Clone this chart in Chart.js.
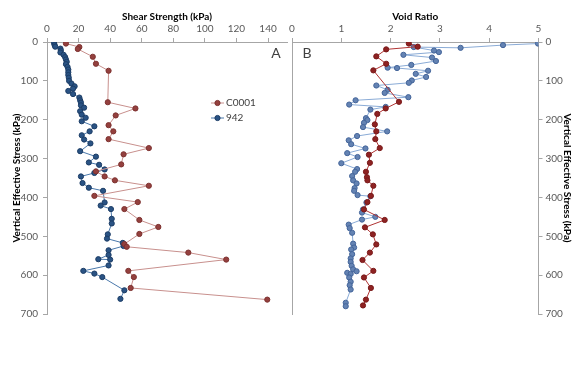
<!DOCTYPE html>
<html>
<head>
<meta charset="utf-8">
<script src="https://cdn.jsdelivr.net/npm/chart.js@4.4.0/dist/chart.umd.min.js"></script>
<style>
  html, body { margin: 0; padding: 0; background: #fff; }
  #wrap { position: relative; width: 576px; height: 366px; }
  canvas { position: absolute; top: 0; }
  #left { left: 0; }
  #right { left: 285px; }
</style>
</head>
<body>
<div id="wrap">
  <canvas id="left" width="292" height="366"></canvas>
  <canvas id="right" width="291" height="366"></canvas>
</div>
<script>
// panel A: shear strength (kPa) against vertical effective stress (kPa)
const shearStressC0001 = [4, 13, 18, 38, 56, 74, 155, 171, 189, 214, 230, 250, 273, 289, 315, 333, 346, 356, 370, 396, 412, 430, 458, 476, 494, 520, 527, 542, 560, 589, 605, 633, 663];
const shearC0001 = [12, 20.5, 19.5, 29, 31, 39, 38.5, 56, 43.5, 39, 42, 39, 64.5, 48.5, 47, 31, 36.5, 43, 64.5, 30, 57.5, 49, 58.5, 70.5, 58.5, 49, 50.5, 89.5, 113.5, 51.5, 55, 53, 139.5];

const shearStress942 = [3, 8, 12, 17, 22, 27, 33, 39, 45, 51, 57, 64, 71, 78, 85, 92, 100, 107, 114, 120, 126, 134, 143, 150, 156, 163, 169, 178, 187, 195, 204, 217, 230, 240, 251, 261, 281, 295, 310, 316, 328, 337, 346, 363, 375, 383, 413, 421, 430, 455, 467, 495, 506, 517, 525, 536, 548, 559, 560, 575, 589, 596, 605, 639, 661];
const shear942 = [4.5, 4.8, 5.2, 8.5, 8.8, 8.5, 10.5, 11.5, 12, 12.5, 12, 13, 13.5, 13.5, 13.5, 13.8, 14, 15.5, 17.5, 16.5, 13.5, 16.5, 20.5, 21, 21.5, 21.5, 23.5, 21, 22, 24.5, 22, 30, 27, 22, 23.5, 27.5, 21, 31, 26.5, 33, 36.5, 30, 21.5, 22.5, 26.5, 35.5, 36.5, 34, 40.5, 41, 41, 38.5, 38, 48, 48.5, 39, 39, 32.5, 40, 39, 23, 30, 35, 49, 46.5];

// panel B: void ratio against vertical effective stress (kPa)
const voidStressC0001 = [4, 12, 19, 37, 56, 73, 154, 171, 185, 212, 230, 250, 273, 290, 311, 334, 348, 356, 370, 396, 412, 431, 458, 477, 495, 521, 542, 561, 589, 606, 633, 663, 678];
const voidC0001 = [2.37, 2.55, 1.91, 1.71, 1.91, 1.65, 2.17, 1.90, 1.73, 1.68, 1.71, 1.69, 1.78, 1.56, 1.58, 1.50, 1.52, 1.53, 1.65, 1.60, 1.53, 1.46, 1.88, 1.48, 1.64, 1.71, 1.58, 1.43, 1.65, 1.46, 1.60, 1.50, 1.44];

const voidStress942 = [4, 8, 15, 13, 22, 26, 33, 40, 49, 59, 66, 67, 74, 82, 90, 99, 105, 112, 123, 131, 142, 150, 161, 167, 174, 196, 201, 208, 219, 230, 242, 253, 263, 274, 286, 296, 312, 327, 334, 345, 356, 364, 376, 383, 394, 397, 413, 431, 439, 450, 457, 470, 479, 491, 519, 529, 534, 546, 557, 566, 576, 585, 590, 594, 597, 606, 617, 626, 637, 671, 680];
const void942 = [4.99, 4.28, 3.42, 2.47, 2.88, 2.98, 2.26, 2.84, 2.92, 2.42, 1.94, 2.13, 2.76, 2.51, 2.72, 2.43, 2.37, 1.71, 1.94, 1.88, 2.36, 1.29, 1.16, 1.90, 1.59, 1.50, 1.53, 1.46, 1.44, 1.93, 1.32, 1.15, 1.20, 1.49, 1.12, 1.33, 1.00, 1.32, 1.28, 1.22, 1.24, 1.31, 1.27, 1.26, 1.33, 1.59, 1.51, 1.44, 1.42, 1.69, 1.42, 1.15, 1.17, 1.22, 1.24, 1.26, 1.20, 1.22, 1.19, 1.19, 1.21, 1.24, 1.31, 1.12, 1.19, 1.16, 1.19, 1.17, 1.19, 1.09, 1.09];

const seriesNames = ['C0001', '942'];

const pts = (xs, ys) => xs.map((x, i) => ({ x: x, y: ys[i] }));

const axisGrey = '#a6a6a6';
const fontFamily = 'Lato, "Open Sans", sans-serif';
const tickFont = { family: fontFamily, size: 10 };
const titleFont = { family: fontFamily, size: 10, weight: 'bold' };

function series(label, data, line, fill, edge) {
  return {
    label: label,
    data: data,
    showLine: true,
    borderColor: line,
    borderWidth: 1,
    pointRadius: 2.6,
    pointBorderWidth: 1,
    pointBackgroundColor: fill,
    pointBorderColor: edge,
    legendFill: fill,
    legendEdge: edge
  };
}

function stressAxis(position, width, labels) {
  return {
    type: 'linear',
    position: position,
    reverse: true,
    min: 0,
    max: 700,
    ticks: { display: labels, stepSize: 100, color: '#595959', font: tickFont, padding: position === 'left' ? 5 : 3 },
    grid: { drawOnChartArea: false, drawTicks: labels, tickLength: 4, color: axisGrey },
    border: { color: axisGrey },
    title: {
      display: labels,
      text: 'Vertical Effective Stress (kPa)',
      color: '#000',
      font: titleFont,
      padding: position === 'left' ? { top: 11, bottom: 0 } : { top: 3, bottom: 0 }
    },
    afterFit: s => { s.width = width; }
  };
}

function topAxis(max, step, title) {
  return {
    type: 'linear',
    position: 'top',
    min: 0,
    max: max,
    ticks: { stepSize: step, color: '#595959', font: tickFont, padding: 3, maxRotation: 0, autoSkip: false },
    afterBuildTicks: s => {
      const list = [];
      for (let v = 0; v <= max + 1e-9; v += step) list.push({ value: v });
      s.ticks = list;
    },
    grid: { drawOnChartArea: false, tickLength: 4, color: axisGrey },
    border: { color: axisGrey },
    title: { display: true, text: title, color: '#000', font: titleFont, padding: { top: 11, bottom: 0 } },
    afterFit: s => { s.height = 42; }
  };
}

// legend drawn inside panel A, and the panel letters
const panelExtras = {
  id: 'panelExtras',
  afterDraw(chart, args, opts) {
    const ctx = chart.ctx;
    ctx.save();
    if (opts.legend) {
      chart.data.datasets.forEach((ds, i) => {
        const y = opts.legend.y + i * 15;
        const x = opts.legend.x;
        ctx.strokeStyle = ds.borderColor;
        ctx.lineWidth = 1;
        ctx.beginPath();
        ctx.moveTo(x, y);
        ctx.lineTo(x + 13, y);
        ctx.stroke();
        ctx.beginPath();
        ctx.arc(x + 6.5, y, 2.6, 0, Math.PI * 2);
        ctx.fillStyle = ds.legendFill;
        ctx.fill();
        ctx.strokeStyle = ds.legendEdge;
        ctx.stroke();
        ctx.fillStyle = '#404040';
        ctx.font = '10px ' + fontFamily;
        ctx.textAlign = 'left';
        ctx.textBaseline = 'middle';
        ctx.fillText(ds.label, x + 15, y);
      });
    }
    ctx.fillStyle = '#404040';
    ctx.font = '14px ' + fontFamily;
    ctx.textAlign = 'center';
    ctx.textBaseline = 'middle';
    ctx.fillText(opts.letter, opts.lx, opts.ly);
    ctx.restore();
  }
};

new Chart(document.getElementById('left'), {
  type: 'scatter',
  data: {
    datasets: [
      series(seriesNames[0], pts(shearC0001, shearStressC0001), '#c8908d', '#94403e', '#7d3230'),
      series(seriesNames[1], pts(shear942, shearStress942), '#4a78ab', '#2a5384', '#1c3d66')
    ]
  },
  options: {
    responsive: false,
    animation: false,
    layout: { padding: { top: 0, left: 0, right: 1.5, bottom: 52 } },
    scales: {
      x: topAxis(152, 20, 'Shear Strength (kPa)'),
      y: stressAxis('left', 47, true)
    },
    plugins: {
      legend: { display: false },
      tooltip: { enabled: false },
      panelExtras: { letter: 'A', lx: 276, ly: 53, legend: { x: 211, y: 103 } }
    }
  },
  plugins: [panelExtras]
});

new Chart(document.getElementById('right'), {
  type: 'scatter',
  data: {
    datasets: [
      series(seriesNames[0], pts(voidC0001, voidStressC0001), '#b03434', '#8e2222', '#7a1a1a'),
      series(seriesNames[1], pts(void942, voidStress942), '#8aabd6', '#6483b3', '#44659a')
    ]
  },
  options: {
    responsive: false,
    animation: false,
    layout: { padding: { top: 0, left: 0, right: 0, bottom: 52 } },
    scales: {
      x: topAxis(5, 1, 'Void Ratio'),
      y: stressAxis('right', 37.5, true),
      yl: stressAxis('left', 7, false)
    },
    plugins: {
      legend: { display: false },
      tooltip: { enabled: false },
      panelExtras: { letter: 'B', lx: 22, ly: 53 }
    }
  },
  plugins: [panelExtras]
});
</script>
</body>
</html>
